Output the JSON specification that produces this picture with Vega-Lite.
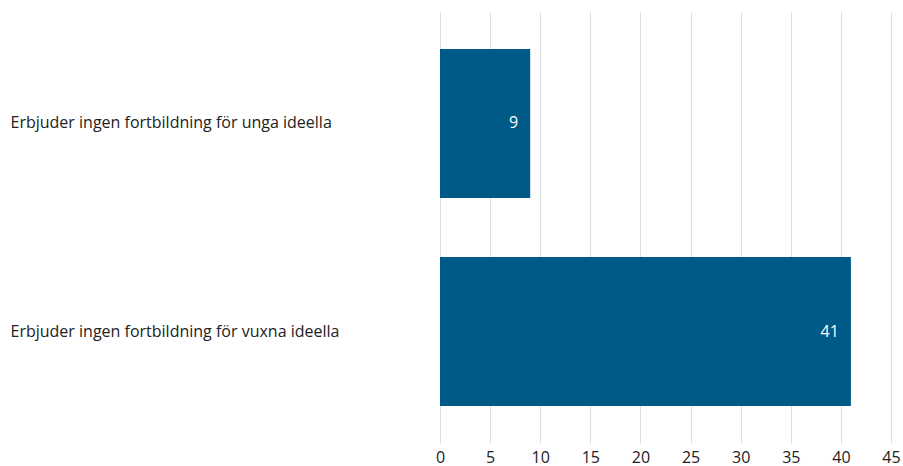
{
  "$schema": "https://vega.github.io/schema/vega-lite/v6.json",
  "width": 451,
  "height": 431,
  "autosize": "none",
  "padding": {"left": 440, "top": 12, "right": 12, "bottom": 23},
  "background": "white",
  "config": {"view": {"stroke": null}, "font": "Open Sans"},
  "data": {"values": [
    {"kategori": "Erbjuder ingen fortbildning för unga ideella", "varde": 9},
    {"kategori": "Erbjuder ingen fortbildning för vuxna ideella", "varde": 41}
  ]},
  "encoding": {
    "y": {"field": "kategori", "type": "nominal", "sort": null,
      "scale": {"paddingInner": 0.284, "paddingOuter": 0.178},
      "axis": {"title": null, "domain": false, "ticks": false, "grid": false,
        "labelAlign": "left", "labelPadding": 430, "labelFontSize": 16,
        "labelColor": "#222222", "labelFont": "Open Sans", "labelLimit": 420}},
    "x": {"field": "varde", "type": "quantitative",
      "scale": {"domain": [0, 45]},
      "axis": {"title": null, "values": [0,5,10,15,20,25,30,35,40,45], "domain": false, "ticks": false,
        "grid": true, "gridColor": "#dddddd", "gridWidth": 1,
        "labelFontSize": 16, "labelColor": "#222222", "labelPadding": 6, "labelFlush": false}}
  },
  "layer": [
    {"mark": {"type": "bar", "color": "#005a87"}},
    {"mark": {"type": "text", "align": "right", "dx": -12, "color": "white", "fontSize": 16, "baseline": "middle"},
     "encoding": {"text": {"field": "varde", "type": "quantitative"}}}
  ]
}
